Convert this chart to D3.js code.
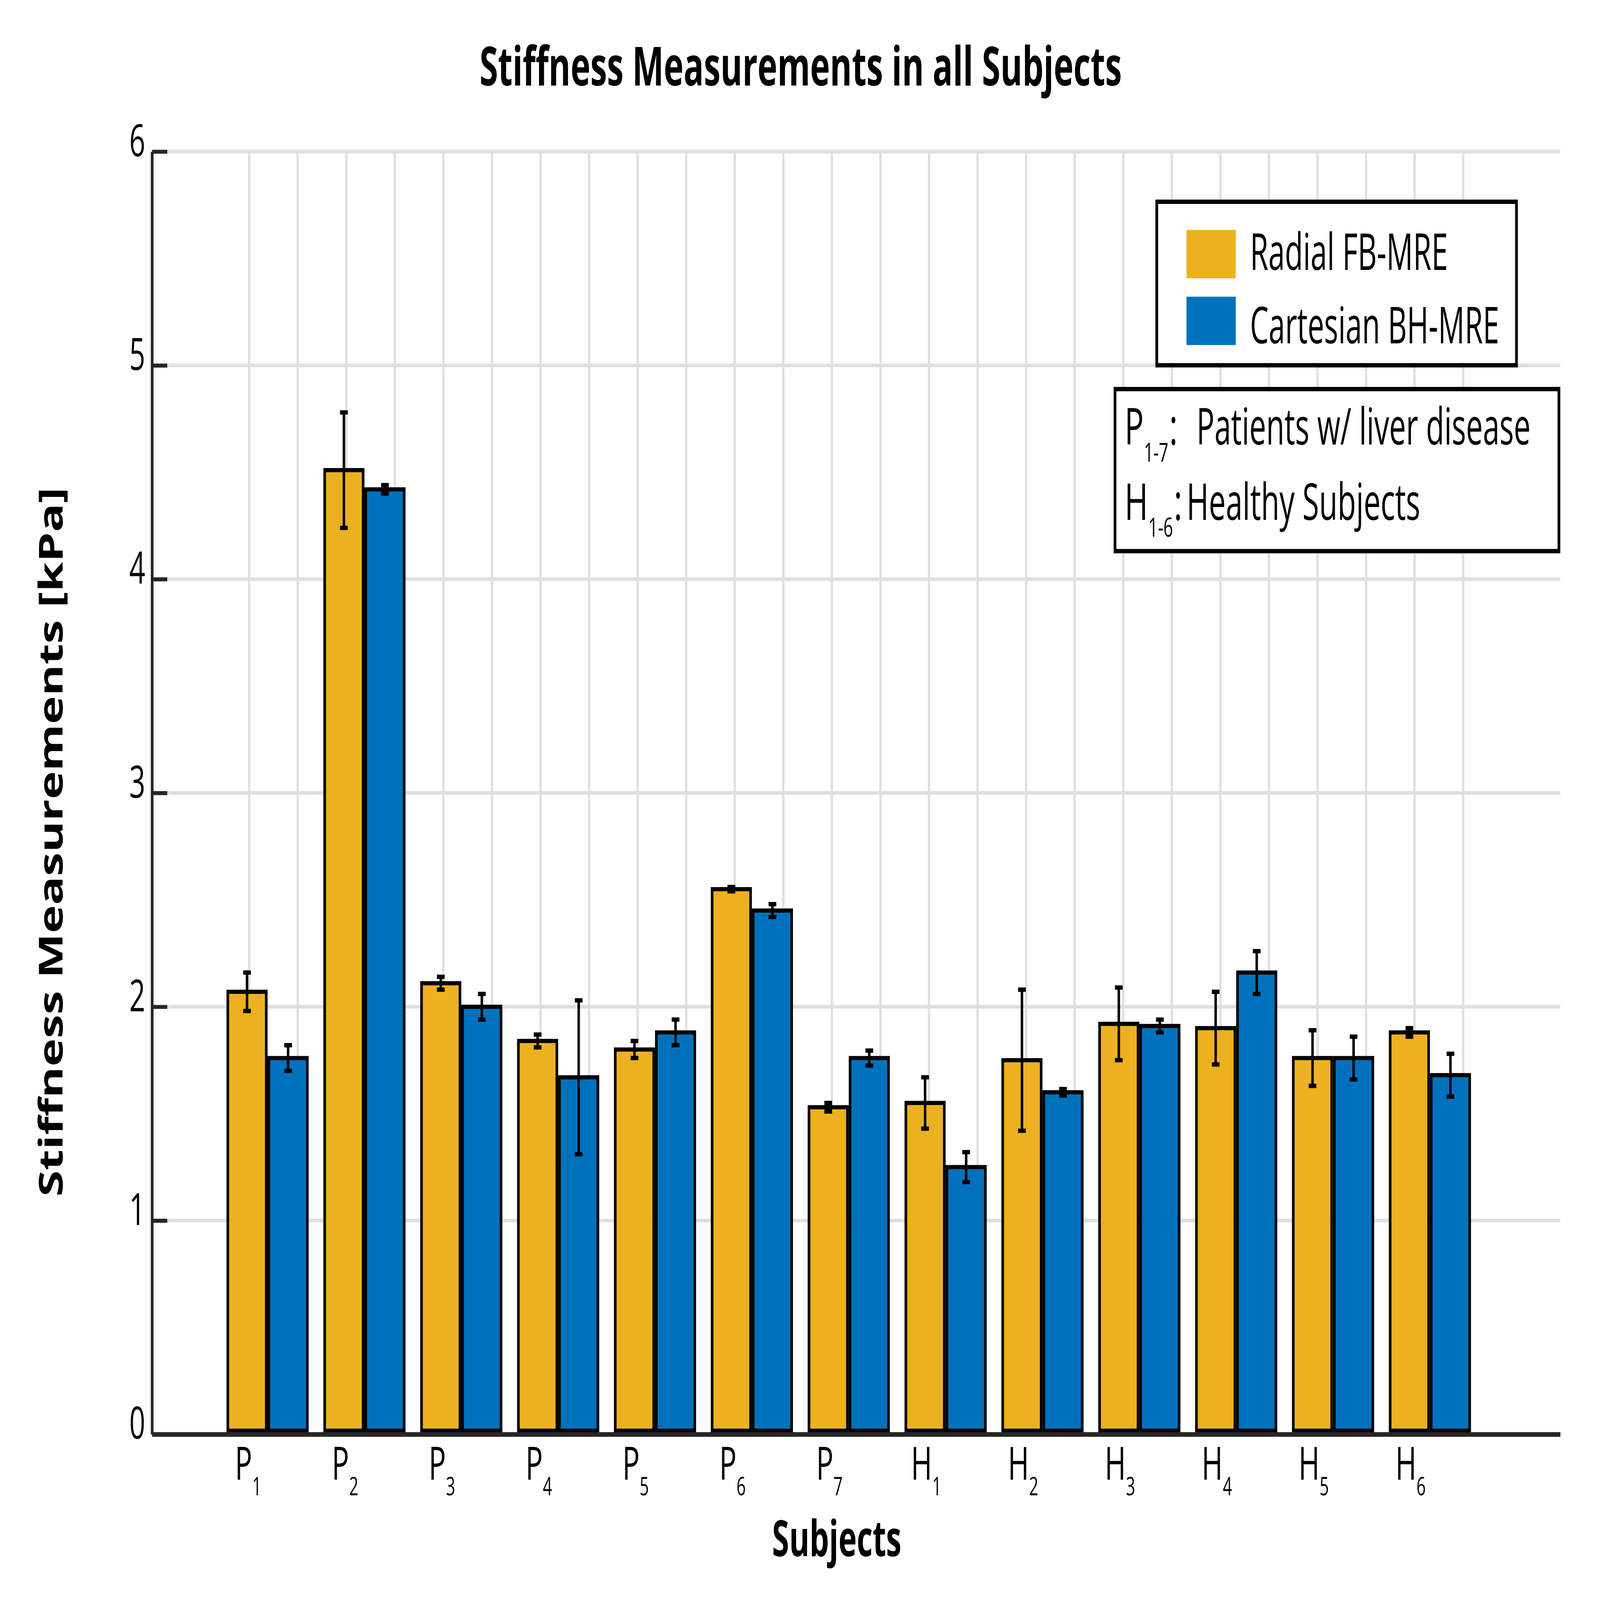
<!DOCTYPE html>
<html>
<head>
<meta charset="utf-8">
<script src="https://cdn.jsdelivr.net/npm/d3@7"></script>
<style>
  html, body { margin: 0; padding: 0; background: #ffffff; overflow: hidden; }
  svg { display: block; font-family: "Open Sans", "Noto Sans", sans-serif; }
</style>
</head>
<body>
<svg id="chart" viewBox="0 0 7050 4433" preserveAspectRatio="none" style="width:100vw;height:100vh"></svg>
<script>
// ---------------- data ----------------
const categories = ["P1","P2","P3","P4","P5","P6","P7","H1","H2","H3","H4","H5","H6"];
const seriesNames = ["Radial FB-MRE", "Cartesian BH-MRE"];
const radialMean   = [2.07, 4.51, 2.11, 1.84, 1.80, 2.55, 1.53, 1.55, 1.75, 1.92, 1.90, 1.76, 1.88];
const radialErr    = [0.09, 0.27, 0.03, 0.03, 0.04, 0.01, 0.02, 0.12, 0.33, 0.17, 0.17, 0.13, 0.02];
const cartesianMean = [1.76, 4.42, 2.00, 1.67, 1.88, 2.45, 1.76, 1.25, 1.60, 1.91, 2.16, 1.76, 1.68];
const cartesianErr  = [0.06, 0.02, 0.06, 0.36, 0.06, 0.03, 0.035, 0.07, 0.015, 0.03, 0.10, 0.10, 0.10];
const yTickValues = [0, 1, 2, 3, 4, 5, 6];
const noteLetters = ["P", "H"];
const noteSubs = ["1-7", "1-6"];
const noteTexts = ["Patients w/ liver disease", "Healthy Subjects"];
const titleText = "Stiffness Measurements in all Subjects";
const xLabelText = "Subjects";
const yLabelText = "Stiffness Measurements [kPa]";

// ---------------- styles ----------------
const colors = { "Radial FB-MRE": "#EDB120", "Cartesian BH-MRE": "#0072BD" };
const axisColor = "#262626";
const gridColor = "#dfdfdf";

const svg = d3.select("#chart");
svg.append("rect").attr("width", 7050).attr("height", 4433).attr("fill", "#fff");

// ---------------- scales ----------------
const plotLeft = 670, plotRight = 6875, plotTop = 420, plotBottom = 3974;
const y = d3.scaleLinear().domain([0, 6]).range([plotBottom, plotTop]);
const xGrid = d3.scaleLinear().domain([0, 29]).range([plotLeft, plotRight]);
const x0 = d3.scaleBand().domain(categories).range([965.6, 6514]).paddingInner(0.152).paddingOuter(0.076);
const x1 = d3.scaleBand().domain(seriesNames).range([0, x0.bandwidth()]).padding(0);

const rows = categories.map((c, i) => ({
  cat: c,
  values: [
    { s: seriesNames[0], v: radialMean[i], e: radialErr[i] },
    { s: seriesNames[1], v: cartesianMean[i], e: cartesianErr[i] }
  ]
}));

// ---------------- grid ----------------
const grid = svg.append("g");
grid.selectAll("line.v").data(d3.range(2, 28)).join("line")
  .attr("x1", d => xGrid(d)).attr("x2", d => xGrid(d))
  .attr("y1", plotTop).attr("y2", plotBottom)
  .attr("stroke", gridColor).attr("stroke-width", 10);
grid.selectAll("line.h").data(yTickValues.filter(d => d > 0)).join("line")
  .attr("x1", plotLeft).attr("x2", plotRight)
  .attr("y1", d => y(d)).attr("y2", d => y(d))
  .attr("stroke", gridColor).attr("stroke-width", 10);

// ---------------- bars ----------------
const sw = 11.5;
const groups = svg.append("g").selectAll("g").data(rows).join("g")
  .attr("transform", d => `translate(${x0(d.cat)},0)`);

groups.selectAll("rect").data(d => d.values).join("rect")
  .attr("x", d => x1(d.s) + sw / 2)
  .attr("width", x1.bandwidth() - sw)
  .attr("y", d => y(d.v))
  .attr("height", d => y(0) - 10 - y(d.v))
  .attr("fill", d => colors[d.s])
  .attr("stroke", "#000").attr("stroke-width", sw);

// error bars
const capHalf = 17;
const eb = groups.selectAll("g.err").data(d => d.values).join("g").attr("class", "err");
const cx = d => x1(d.s) + x1.bandwidth() / 2;
eb.append("line")
  .attr("x1", cx).attr("x2", cx)
  .attr("y1", d => y(d.v + d.e)).attr("y2", d => y(d.v - d.e))
  .attr("stroke", "#000").attr("stroke-width", 11);
eb.append("line")
  .attr("x1", d => cx(d) - capHalf).attr("x2", d => cx(d) + capHalf)
  .attr("y1", d => y(d.v + d.e)).attr("y2", d => y(d.v + d.e))
  .attr("stroke", "#000").attr("stroke-width", 12);
eb.append("line")
  .attr("x1", d => cx(d) - capHalf).attr("x2", d => cx(d) + capHalf)
  .attr("y1", d => y(d.v - d.e)).attr("y2", d => y(d.v - d.e))
  .attr("stroke", "#000").attr("stroke-width", 12);

// ---------------- axes ----------------
const yAxis = svg.append("g").attr("transform", `translate(${plotLeft},0)`)
  .call(d3.axisLeft(y).tickValues(yTickValues).tickFormat(d3.format("d")).tickSize(-67).tickSizeOuter(0).tickPadding(30));
yAxis.select(".domain").attr("stroke", axisColor).attr("stroke-width", 12);
yAxis.selectAll(".tick line").attr("stroke", axisColor).attr("stroke-width", 11);
yAxis.selectAll(".tick text").attr("font-size", 123).attr("font-family", "Open Sans")
  .attr("fill", "#000").attr("dy", 12);

const xAxis = svg.append("g").attr("transform", `translate(0,${plotBottom})`)
  .call(d3.axisBottom(xGrid).tickValues([]).tickSizeOuter(0));
xAxis.select(".domain").attr("stroke", axisColor).attr("stroke-width", 13);

// x tick labels (letter + subscript), centred under the first bar of each group
const xt = svg.append("g").selectAll("text").data(categories).join("text")
  .attr("x", c => x0(c) + x1(seriesNames[0]) + x1.bandwidth() / 2 + 5)
  .attr("y", 4100)
  .attr("text-anchor", "middle")
  .attr("fill", "#000");
xt.append("tspan").attr("font-size", 127).text(c => c[0]);
xt.append("tspan").attr("font-size", 71).attr("dy", 43).text(c => c.slice(1));

// ---------------- titles ----------------
svg.append("text").attr("x", 3528).attr("y", 237).attr("text-anchor", "middle")
  .attr("font-size", 150).attr("font-weight", "bold").attr("fill", "#000")
  .attr("textLength", 2830).attr("lengthAdjust", "spacingAndGlyphs")
  .text(titleText);

svg.append("text").attr("x", 3687).attr("y", 4312).attr("text-anchor", "middle")
  .attr("font-size", 138).attr("font-weight", "bold").attr("fill", "#000")
  .attr("textLength", 570).attr("lengthAdjust", "spacingAndGlyphs")
  .text(xLabelText);

svg.append("text").attr("transform", "translate(275,2333) rotate(-90)").attr("text-anchor", "middle")
  .attr("font-size", 144).attr("font-weight", "bold").attr("fill", "#000")
  .attr("textLength", 1965).attr("lengthAdjust", "spacingAndGlyphs")
  .text(yLabelText);

// ---------------- legend ----------------
const leg = svg.append("g");
leg.append("rect").attr("x", 5097).attr("y", 559).attr("width", 1585).attr("height", 453)
  .attr("fill", "#fff").attr("stroke", "#000").attr("stroke-width", 12);
const legItems = leg.selectAll("g.item").data(seriesNames).join("g").attr("class", "item");
legItems.append("rect")
  .attr("x", 5228).attr("y", (d, i) => 637 + i * 185)
  .attr("width", 217).attr("height", 134)
  .attr("fill", d => colors[d]);
const legTextLen = [872, 1098];
legItems.append("text")
  .attr("x", 5508).attr("y", (d, i) => 748 + i * 203)
  .attr("font-size", 140).attr("fill", "#000")
  .attr("textLength", (d, i) => legTextLen[i]).attr("lengthAdjust", "spacingAndGlyphs")
  .text(d => d);

// notes box
const note = svg.append("g");
note.append("rect").attr("x", 4913).attr("y", 1078).attr("width", 1956).attr("height", 449)
  .attr("fill", "#fff").attr("stroke", "#000").attr("stroke-width", 12);
const noteBase = [1232, 1440];
const subX = [5040, 5060];
const colonX = [5152, 5172];
const phraseX = [5272, 5228];
const phraseLen = [1472, 1030];
const noteRows = note.selectAll("g.row").data(noteLetters).join("g").attr("class", "row");
noteRows.append("text").attr("x", 4955).attr("y", (d, i) => noteBase[i])
  .attr("font-size", 141).attr("fill", "#000").text(d => d);
noteRows.append("text").attr("x", (d, i) => subX[i]).attr("y", (d, i) => noteBase[i] + 47)
  .attr("font-size", 74).attr("fill", "#000").text((d, i) => noteSubs[i]);
noteRows.append("text").attr("x", (d, i) => colonX[i]).attr("y", (d, i) => noteBase[i])
  .attr("font-size", 141).attr("fill", "#000").text(":");
noteRows.append("text").attr("x", (d, i) => phraseX[i]).attr("y", (d, i) => noteBase[i])
  .attr("font-size", 141).attr("fill", "#000")
  .attr("textLength", (d, i) => phraseLen[i]).attr("lengthAdjust", "spacingAndGlyphs")
  .text((d, i) => noteTexts[i]);
</script>
</body>
</html>
